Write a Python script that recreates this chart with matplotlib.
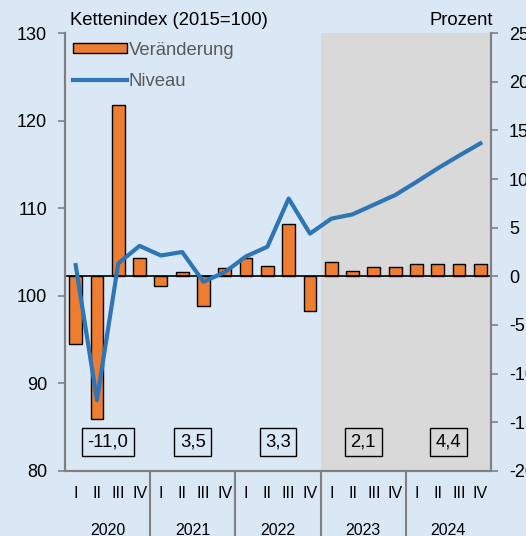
import matplotlib.pyplot as plt
import matplotlib.transforms as mtransforms
from matplotlib.patches import Patch
from matplotlib.lines import Line2D
import numpy as np

years = ['2020', '2021', '2022', '2023', '2024']
quarters = ['I', 'II', 'III', 'IV']
# quarterly change in percent (right axis)
change = [-7.0, -14.7, 17.6, 1.9, -1.0, 0.4, -3.0, 0.9,
          1.9, 1.1, 5.4, -3.6, 1.5, 0.5, 1.0, 1.0,
          1.3, 1.3, 1.3, 1.3]
# chain index 2015=100 (left axis)
level = [103.5, 88.1, 103.7, 105.7, 104.6, 105.0, 101.6, 102.7,
         104.5, 105.6, 111.1, 107.1, 108.8, 109.3, 110.4, 111.5,
         113.0, 114.55, 116.0, 117.4]
annual = ['-11,0', '3,5', '3,3', '2,1', '4,4']

bg = '#DAE8F5'
grey = '#808080'
plt.rcParams['font.family'] = 'Liberation Sans'
plt.rcParams['axes.unicode_minus'] = False

fig = plt.figure(figsize=(5.26, 5.36), dpi=100, facecolor=bg)
ax = fig.add_axes([0.1236, 0.1213, 0.8099, 0.8171])
ax.set_facecolor(bg)
ax2 = ax.twinx()
x = np.arange(len(change))

# forecast shading
ax.axvspan(11.5, 19.5, color='#D9D9D9', zorder=0, lw=0)
ax.bar(x, change, width=0.6, color='#ED7D31', edgecolor='black', linewidth=1, zorder=2)
ax.axhline(0, color='black', lw=1.2, zorder=3)
ax.set_ylim(-20, 25)
ax.set_xlim(-0.5, 19.5)
ax.set_yticks(range(-20, 26, 5))

ax2.plot(x, level, color='#2E75B6', lw=3, zorder=4)
ax2.set_ylim(80, 130)
ax2.set_yticks(range(80, 131, 10))

ax.yaxis.tick_right()
ax2.yaxis.tick_left()

for a in (ax, ax2):
    a.spines['top'].set_visible(False)
    for s in ['left', 'right', 'bottom']:
        a.spines[s].set_color(grey)
        a.spines[s].set_linewidth(1.5)
    a.tick_params(axis='y', colors=grey, labelcolor='black', labelsize=13, length=5, width=1.2, pad=8)

ax.set_xticks(x)
ax.set_xticklabels(quarters * len(years), fontsize=11.5)
ax.tick_params(axis='x', length=0, pad=11)

trans = mtransforms.blended_transform_factory(ax.transData, ax.transAxes)
for i, yr in enumerate(years):
    ax.text(4 * i + 1.5, -0.135, yr, transform=trans, ha='center', va='center', fontsize=11.5)
    ax.text(4 * i + 1.5, 0.066, annual[i], transform=trans, ha='center', va='center', fontsize=13.3,
            bbox=dict(boxstyle='square,pad=0.3', fc='none', ec='black', lw=1), zorder=5)
for b in np.arange(3.5, 19, 4):
    ax.plot([b, b], [0, -0.15], transform=trans, color=grey, lw=1.5, clip_on=False)

handles = [Patch(facecolor='#ED7D31', edgecolor='black'),
           Line2D([], [], color='#2E75B6', lw=3)]
leg = ax2.legend(handles, ['Veränderung', 'Niveau'], loc='upper left', bbox_to_anchor=(-0.02, 1.018),
                 frameon=False, fontsize=13.3, handlelength=2.9, handleheight=0.5,
                 labelspacing=0.75, handletextpad=0.1, labelcolor='#595959')

fig.text(0.133, 0.962, 'Kettenindex (2015=100)', fontsize=13.3, va='center', ha='left')
fig.text(0.937, 0.962, 'Prozent', fontsize=13.3, va='center', ha='right')

fig.savefig('out.png', dpi=100, facecolor=bg)
